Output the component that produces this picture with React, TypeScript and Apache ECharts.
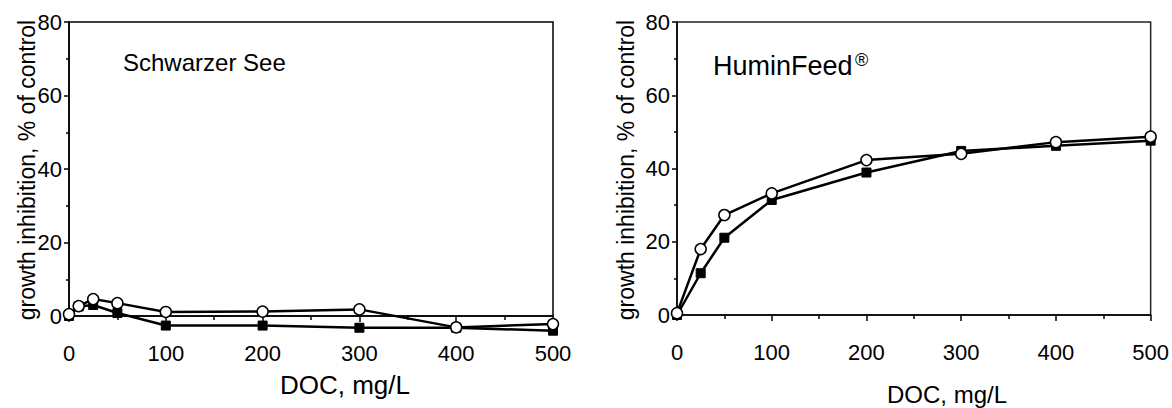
import React, { useEffect, useRef } from "react";
import * as echarts from "echarts";

// ---- data ----
const schwarzerX = [0, 10, 25, 50, 100, 200, 300, 400, 500];
const schwarzerOpen = [0.5, 2.7, 4.6, 3.5, 1.1, 1.2, 1.8, -3.1, -2.2];
const schwarzerFilled = [0, 2.6, 3.0, 0.8, -2.6, -2.6, -3.2, -3.2, -4.0];

const huminX = [0, 25, 50, 100, 200, 300, 400, 500];
const huminOpen = [0.5, 18.0, 27.3, 33.2, 42.3, 44.0, 47.2, 48.7];
const huminFilled = [0, 11.4, 21.1, 31.4, 38.9, 44.8, 46.2, 47.6];

const xTicks = [0, 100, 200, 300, 400, 500];
const yTicks = [0, 20, 40, 60, 80];

const yTitle = "growth inhibition, % of control";
const xTitle = "DOC, mg/L";
const leftTitle = "Schwarzer See";
const rightTitle = "HuminFeed";
const rightTitleSup = "®";

const FONT = "'Liberation Sans', Arial, Helvetica, sans-serif";

function pairs(xs: number[], ys: number[]) {
  return xs.map((x, i) => [x, ys[i]]);
}

export default function App() {
  const ref = useRef<HTMLDivElement>(null);

  useEffect(() => {
    if (!ref.current) return;
    const chart = echarts.init(ref.current, null, { renderer: "svg" });
    const black = "#000";

    const xAxisBase = (gridIndex: number) => ({
      gridIndex,
      type: "value",
      min: xTicks[0],
      max: xTicks[xTicks.length - 1],
      interval: xTicks[1] - xTicks[0],
      axisLine: { show: true, onZero: false, lineStyle: { color: black, width: 1.5 } },
      axisTick: { show: true, length: 6, lineStyle: { color: black, width: 1.5 } },
      minorTick: { show: true, splitNumber: 2, length: 4, lineStyle: { color: black, width: 1.5 } },
      axisLabel: { margin: 26, fontSize: 22, color: black, fontFamily: FONT },
      splitLine: { show: false },
    });
    const yAxisBase = (gridIndex: number) => ({
      gridIndex,
      type: "value",
      min: yTicks[0],
      max: yTicks[yTicks.length - 1],
      interval: yTicks[1] - yTicks[0],
      axisLine: { show: true, lineStyle: { color: black, width: 1.5 } },
      axisTick: { show: true, length: 5, lineStyle: { color: black, width: 1.5 } },
      minorTick: { show: true, splitNumber: 2, length: 3, lineStyle: { color: black, width: 1.5 } },
      axisLabel: { margin: 7, fontSize: 22, color: black, fontFamily: FONT },
      splitLine: { show: false },
    });

    const filledSeries = (i: number, data: number[][]) => ({
      type: "line",
      xAxisIndex: i,
      yAxisIndex: i,
      data,
      clip: false,
      symbol: "rect",
      symbolSize: 9,
      lineStyle: { color: black, width: 2.5 },
      itemStyle: { color: black, borderColor: black, borderWidth: 1 },
      z: 2,
    });
    const openSeries = (i: number, data: number[][]) => ({
      type: "line",
      xAxisIndex: i,
      yAxisIndex: i,
      data,
      clip: false,
      symbol: "circle",
      symbolSize: 11,
      showAllSymbol: true,
      lineStyle: { color: black, width: 2.5 },
      itemStyle: { color: "#fff", borderColor: black, borderWidth: 1.5 },
      z: 3,
    });

    chart.setOption({
      animation: false,
      backgroundColor: "#fff",
      grid: [
        { left: 69, top: 22, width: 484, height: 294, show: true, borderColor: black, borderWidth: 1.5, backgroundColor: "transparent" },
        { left: 677, top: 22, width: 477, height: 293, show: true, borderColor: "#222", borderWidth: 1.5, backgroundColor: "transparent" },
      ],
      xAxis: [xAxisBase(0), xAxisBase(1)],
      yAxis: [yAxisBase(0), yAxisBase(1)],
      series: [
        filledSeries(0, pairs(schwarzerX, schwarzerFilled)),
        openSeries(0, pairs(schwarzerX, schwarzerOpen)),
        filledSeries(1, pairs(huminX, huminFilled)),
        openSeries(1, pairs(huminX, huminOpen)),
      ],
      graphic: [
        {
          type: "text", x: 27, y: 170, rotation: Math.PI / 2,
          style: { text: yTitle, font: `23px ${FONT}`, fill: black, align: "center", verticalAlign: "middle" },
        },
        {
          type: "text", x: 626, y: 170, rotation: Math.PI / 2,
          style: { text: yTitle, font: `23px ${FONT}`, fill: black, align: "center", verticalAlign: "middle" },
        },
        {
          type: "text", x: 345, y: 385,
          style: { text: xTitle, font: `26px ${FONT}`, fill: black, align: "center", verticalAlign: "middle" },
        },
        {
          type: "text", x: 947, y: 394,
          style: { text: xTitle, font: `24px ${FONT}`, fill: black, align: "center", verticalAlign: "middle" },
        },
        {
          type: "text", x: 123, y: 62,
          style: { text: leftTitle, font: `24px ${FONT}`, fill: black, align: "left", verticalAlign: "middle" },
        },
        {
          type: "text", x: 713, y: 66,
          style: { text: rightTitle, font: `27px ${FONT}`, fill: black, align: "left", verticalAlign: "middle" },
        },
        {
          type: "text", x: 855, y: 60,
          style: { text: rightTitleSup, font: `18px ${FONT}`, fill: black, align: "left", verticalAlign: "middle" },
        },
      ],
    });

    return () => chart.dispose();
  }, []);

  return (
    <div
      ref={ref}
      style={{ position: "fixed", left: 0, top: 0, width: 1172, height: 408, background: "#fff" }}
    />
  );
}
